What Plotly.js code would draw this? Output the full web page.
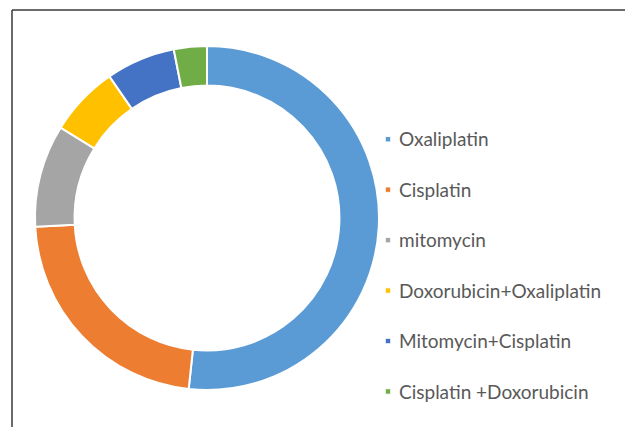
<!DOCTYPE html>
<html>
<head>
<meta charset="utf-8">
<script src="https://cdn.plot.ly/plotly-3.0.1.min.js"></script>
<style>
  html, body { margin: 0; padding: 0; background: #fff; }
  #chart { width: 625px; height: 427px; }
  .legend .legendpoints path.legendpie { transform: translate(29px, 0px) scale(0.45); }
  .legend text.legendtext { transform: translate(0px, -7px); }
</style>
</head>
<body>
<div id="chart"></div>
<script>
const categories = ["Oxaliplatin", "Cisplatin", "mitomycin", "Doxorubicin+Oxaliplatin", "Mitomycin+Cisplatin", "Cisplatin +Doxorubicin"];
const shares = [51.7, 22.5, 9.6, 6.6, 6.5, 3.1];
const sliceColors = ["#5B9BD5", "#ED7D31", "#A5A5A5", "#FFC000", "#4472C4", "#70AD47"];

const legendLabels = categories.map(c => '<span style="font-size:19px">' + c + '</span>');

const W = 625, H = 427;
const cx = 207, cy = 218, R = 172;

const data = [{
  type: 'pie',
  labels: legendLabels,
  values: shares,
  sort: false,
  direction: 'clockwise',
  rotation: 0,
  hole: 0.77,
  textinfo: 'none',
  hoverinfo: 'label+percent',
  marker: { colors: sliceColors, line: { color: '#ffffff', width: 2 } },
  domain: {
    x: [(cx - R) / W, (cx + R) / W],
    y: [(H - cy - R) / H, (H - cy + R) / H]
  }
}];

const layout = {
  width: W, height: H,
  margin: { l: 0, r: 0, t: 0, b: 0 },
  paper_bgcolor: '#ffffff',
  showlegend: true,
  font: { family: 'Lato, "Open Sans", sans-serif', color: '#595959' },
  legend: {
    x: 359 / W, xanchor: 'left',
    y: 1 - 109 / H, yanchor: 'top',
    bgcolor: 'rgba(0,0,0,0)',
    borderwidth: 0,
    font: { size: 36.5, color: '#595959', family: 'Lato, "Open Sans", sans-serif' },
    itemclick: false
  },
  shapes: [
    { type: 'line', xref: 'paper', yref: 'paper', x0: 12 / W, x1: 1, y0: 1 - 10 / H, y1: 1 - 10 / H, line: { color: '#3a3a3a', width: 1.5 } },
    { type: 'line', xref: 'paper', yref: 'paper', x0: 12 / W, x1: 12 / W, y0: 0, y1: 1 - 10 / H, line: { color: '#3a3a3a', width: 1.5 } }
  ]
};

Plotly.newPlot('chart', data, layout, { displayModeBar: false, staticPlot: true });
</script>
</body>
</html>
